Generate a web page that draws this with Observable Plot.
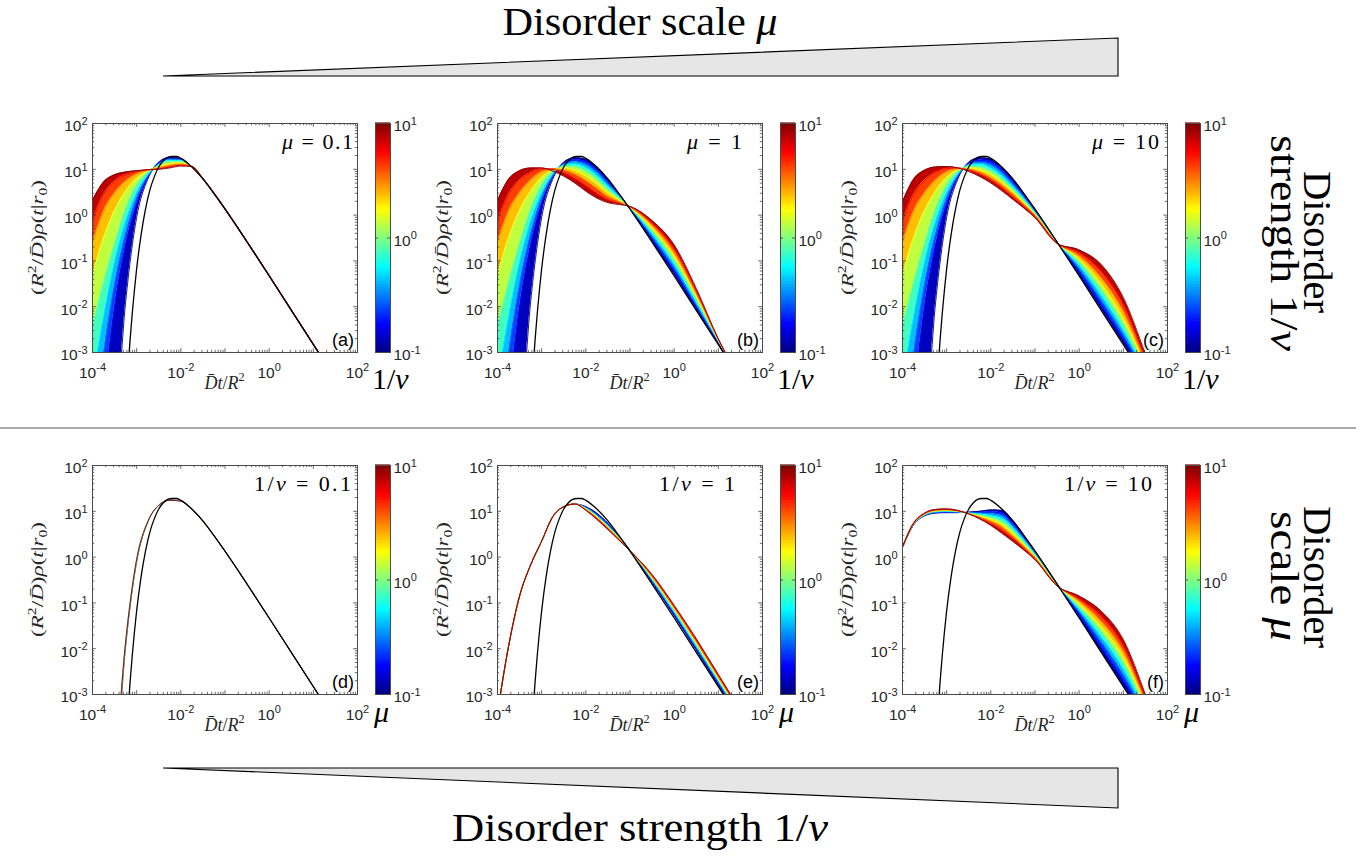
<!DOCTYPE html>
<html><head><meta charset="utf-8">
<script src="https://cdn.jsdelivr.net/npm/d3@7"></script>
<script src="https://cdn.jsdelivr.net/npm/@observablehq/plot@0.6"></script>
<style>
body{margin:0;background:#fff;}
#fig{position:relative;width:1363px;height:859px;overflow:hidden;background:#fff;}
#fig > svg{position:absolute;}
</style></head><body><div id="fig"></div>
<script>
// ---------------- DATA (log10 values) ----------------
const logT = [-4,-3.75,-3.5,-3.25,-3,-2.75,-2.5,-2.25,-2,-1.75,-1.5,-1.25,-1,-0.5,0,0.5,1,1.5,2];
const invNuValues = [0.1,0.178,0.316,0.562,1,1.78,3.16,5.62,10];
const muValues = [0.1,0.178,0.316,0.562,1,1.78,3.16,5.62,10];
const muValuesD = [0.1,1,10];

// homogeneous reference curve (black)
const blackLogT = [-3.3,-3.2,-3.15,-3.1,-3.05,-3,-2.9,-2.8,-2.7,-2.6,-2.5,-2.4,-2.3,-2.2,-2.1,-2,-1.75,-1.5,-1.25,-1,-0.5,0,0.5,1,1.5,2];
const blackLogRho = [-5.04,-3.41,-2.74,-2.15,-1.63,-1.17,-0.43,0.13,0.55,0.84,1.05,1.18,1.26,1.28,1.28,1.24,1.05,0.79,0.47,0.13,-0.59,-1.33,-2.08,-2.83,-3.58,-4.33];

// (a) mu = 0.1, curves for 1/nu = invNuValues
const logRhoA = [
 [-8,-5.5,-4.8,-1.9,-0.05,0.78,1.15,1.26,1.235,1.054,0.785,0.47,0.129,-0.59,-1.33,-2.078,-2.827,-3.577,-4.327],
 [-6.5,-4.0,-2.0,-0.65,0.25,0.82,1.14,1.24,1.22,1.055,0.787,0.472,0.131,-0.588,-1.328,-2.076,-2.825,-3.575,-4.325],
 [-5.0,-3.0,-1.5,-0.4,0.38,0.85,1.12,1.22,1.21,1.055,0.789,0.474,0.133,-0.586,-1.326,-2.074,-2.823,-3.573,-4.323],
 [-3.6,-2.2,-1.0,-0.12,0.5,0.88,1.1,1.19,1.19,1.056,0.791,0.476,0.135,-0.584,-1.324,-2.072,-2.821,-3.571,-4.321],
 [-2.4,-1.45,-0.6,0.15,0.66,0.93,1.08,1.16,1.16,1.057,0.793,0.478,0.137,-0.582,-1.322,-2.07,-2.819,-3.569,-4.319],
 [-1.3,-0.5,0.1,0.52,0.8,0.96,1.06,1.12,1.14,1.058,0.795,0.48,0.139,-0.58,-1.32,-2.068,-2.817,-3.567,-4.317],
 [-0.6,0.08,0.48,0.74,0.9,0.98,1.03,1.08,1.11,1.059,0.797,0.482,0.141,-0.578,-1.318,-2.066,-2.815,-3.565,-4.315],
 [-0.12,0.45,0.74,0.88,0.95,0.99,1.01,1.05,1.09,1.06,0.8,0.485,0.144,-0.575,-1.315,-2.063,-2.812,-3.562,-4.312],
 [0.32,0.72,0.88,0.94,0.97,0.99,1.0,1.03,1.07,1.06,0.805,0.49,0.15,-0.57,-1.31,-2.06,-2.81,-3.56,-4.31]
];
// (b) mu = 1
const logRhoB = [
 [-8,-5.5,-4.8,-1.9,-0.05,0.78,1.15,1.25,1.22,1.04,0.78,0.47,0.14,-0.57,-1.29,-2.05,-2.81,-3.57,-4.33],
 [-6.5,-4.0,-2.0,-0.65,0.25,0.82,1.13,1.21,1.16,0.99,0.74,0.45,0.15,-0.52,-1.22,-2.0,-2.79,-3.56,-4.33],
 [-5.0,-3.0,-1.5,-0.4,0.38,0.86,1.11,1.16,1.1,0.93,0.68,0.43,0.155,-0.46,-1.14,-1.95,-2.77,-3.56,-4.33],
 [-3.6,-2.2,-1.0,-0.12,0.5,0.9,1.09,1.11,1.03,0.86,0.62,0.4,0.16,-0.4,-1.06,-1.89,-2.75,-3.56,-4.33],
 [-2.4,-1.45,-0.6,0.15,0.66,0.95,1.06,1.05,0.95,0.78,0.55,0.37,0.165,-0.34,-0.98,-1.83,-2.74,-3.57,-4.35],
 [-1.3,-0.5,0.1,0.52,0.82,0.98,1.03,0.97,0.85,0.68,0.48,0.33,0.17,-0.28,-0.9,-1.77,-2.73,-3.57,-4.37],
 [-0.6,0.08,0.48,0.76,0.94,1.01,0.98,0.89,0.75,0.58,0.4,0.29,0.175,-0.22,-0.81,-1.71,-2.72,-3.58,-4.4],
 [-0.12,0.45,0.76,0.93,1.01,1.0,0.92,0.8,0.64,0.47,0.33,0.26,0.18,-0.17,-0.73,-1.65,-2.71,-3.59,-4.45],
 [0.32,0.78,0.97,1.03,1.03,0.96,0.85,0.7,0.52,0.37,0.27,0.23,0.19,-0.12,-0.65,-1.6,-2.7,-3.6,-4.5]
];
// (c) mu = 10
const logRhoC = [
 [-8,-5.5,-4.8,-1.9,-0.05,0.78,1.15,1.25,1.225,1.045,0.78,0.47,0.13,-0.59,-1.3,-2.04,-2.79,-3.54,-4.29],
 [-6.5,-4.0,-2.0,-0.65,0.25,0.82,1.13,1.2,1.16,0.99,0.73,0.43,0.1,-0.593,-1.23,-1.95,-2.7,-3.5,-4.3],
 [-5.0,-3.0,-1.5,-0.4,0.38,0.86,1.11,1.15,1.09,0.92,0.67,0.39,0.08,-0.596,-1.16,-1.85,-2.6,-3.45,-4.3],
 [-3.6,-2.2,-1.0,-0.12,0.5,0.9,1.09,1.1,1.02,0.85,0.61,0.35,0.06,-0.6,-1.09,-1.74,-2.5,-3.4,-4.31],
 [-2.4,-1.45,-0.6,0.15,0.66,0.95,1.06,1.04,0.95,0.78,0.56,0.31,0.04,-0.603,-1.02,-1.62,-2.38,-3.35,-4.32],
 [-1.3,-0.5,0.1,0.52,0.82,0.98,1.03,0.98,0.88,0.71,0.5,0.27,0.02,-0.606,-0.96,-1.5,-2.25,-3.28,-4.33],
 [-0.6,0.08,0.48,0.76,0.94,1.01,1.0,0.93,0.81,0.65,0.45,0.23,0.0,-0.61,-0.89,-1.37,-2.1,-3.2,-4.34],
 [-0.12,0.45,0.76,0.93,1.02,1.03,0.98,0.89,0.76,0.59,0.39,0.19,-0.03,-0.615,-0.82,-1.23,-1.95,-3.12,-4.35],
 [0.29,0.78,0.98,1.05,1.06,1.03,0.95,0.84,0.7,0.53,0.34,0.15,-0.06,-0.62,-0.76,-1.08,-1.8,-3.03,-4.36]
];
// (d) 1/nu = 0.1, curves for mu = muValuesD
const logRhoD = [
 [-8,-5.5,-4.8,-1.95,-0.1,0.76,1.13,1.245,1.228,1.05,0.785,0.47,0.129,-0.592,-1.332,-2.079,-2.828,-3.578,-4.328],
 [-8,-5.5,-4.7,-1.9,-0.08,0.765,1.13,1.243,1.225,1.048,0.783,0.47,0.13,-0.591,-1.331,-2.078,-2.827,-3.577,-4.327],
 [-8,-5.5,-4.6,-1.85,-0.05,0.77,1.13,1.24,1.22,1.045,0.78,0.47,0.13,-0.59,-1.33,-2.077,-2.826,-3.576,-4.326]
];
// (e) 1/nu = 1, curves for mu = muValues
const logRhoE = [
 [-3.4,-1.95,-0.85,-0.17,0.35,0.88,1.1,1.16,1.1,0.96,0.74,0.46,0.15,-0.55,-1.28,-2.03,-2.79,-3.55,-4.3],
 [-3.4,-1.95,-0.85,-0.17,0.35,0.88,1.1,1.16,1.09,0.94,0.72,0.45,0.15,-0.53,-1.25,-2.0,-2.76,-3.52,-4.28],
 [-3.4,-1.95,-0.85,-0.17,0.35,0.88,1.1,1.16,1.08,0.92,0.7,0.44,0.15,-0.51,-1.22,-1.97,-2.73,-3.5,-4.26],
 [-3.4,-1.95,-0.85,-0.17,0.35,0.88,1.1,1.16,1.07,0.9,0.68,0.43,0.15,-0.49,-1.19,-1.94,-2.7,-3.47,-4.24],
 [-3.4,-1.95,-0.85,-0.17,0.35,0.88,1.1,1.16,1.06,0.89,0.67,0.42,0.145,-0.47,-1.16,-1.91,-2.68,-3.45,-4.22],
 [-3.4,-1.95,-0.85,-0.17,0.35,0.88,1.1,1.16,1.05,0.87,0.65,0.41,0.145,-0.45,-1.13,-1.88,-2.65,-3.42,-4.2],
 [-3.4,-1.95,-0.85,-0.17,0.35,0.88,1.1,1.16,1.04,0.86,0.64,0.4,0.145,-0.43,-1.11,-1.85,-2.62,-3.4,-4.17],
 [-3.4,-1.95,-0.85,-0.17,0.35,0.88,1.1,1.16,1.03,0.84,0.62,0.38,0.14,-0.4,-1.08,-1.81,-2.59,-3.37,-4.15],
 [-3.4,-1.95,-0.85,-0.17,0.35,0.88,1.1,1.16,1.02,0.82,0.6,0.37,0.14,-0.38,-1.05,-1.78,-2.56,-3.34,-4.12]
];
// (f) 1/nu = 10, curves for mu = muValues
const logRhoF = [
 [0.21,0.70,0.90,0.96,0.97,0.97,0.98,1.0,1.03,1.02,0.8,0.48,0.14,-0.58,-1.31,-2.06,-2.81,-3.56,-4.31],
 [0.21,0.705,0.91,0.97,0.98,0.976,0.975,0.98,0.99,0.96,0.74,0.44,0.115,-0.586,-1.25,-1.95,-2.68,-3.49,-4.32],
 [0.21,0.71,0.915,0.98,0.99,0.982,0.97,0.96,0.945,0.9,0.68,0.4,0.09,-0.593,-1.19,-1.84,-2.56,-3.42,-4.33],
 [0.215,0.715,0.92,0.99,1.0,0.99,0.965,0.94,0.9,0.84,0.63,0.36,0.065,-0.6,-1.14,-1.73,-2.43,-3.35,-4.34],
 [0.215,0.72,0.93,1.0,1.01,0.995,0.96,0.915,0.86,0.77,0.57,0.315,0.04,-0.605,-1.08,-1.62,-2.3,-3.28,-4.35],
 [0.215,0.725,0.94,1.01,1.02,1.0,0.955,0.89,0.82,0.71,0.51,0.27,0.015,-0.61,-1.02,-1.51,-2.18,-3.21,-4.36],
 [0.22,0.73,0.945,1.02,1.03,1.008,0.95,0.87,0.775,0.65,0.45,0.23,-0.01,-0.617,-0.96,-1.4,-2.05,-3.14,-4.37],
 [0.22,0.735,0.95,1.03,1.04,1.014,0.945,0.85,0.73,0.58,0.4,0.19,-0.035,-0.624,-0.91,-1.29,-1.93,-3.07,-4.38],
 [0.22,0.74,0.96,1.04,1.05,1.02,0.94,0.83,0.69,0.52,0.34,0.15,-0.06,-0.63,-0.85,-1.18,-1.8,-3.0,-4.4]
];

const xLabelTicks = [1e-4,1e-2,1e0,1e2];
const yLabelTicks = [1e-3,1e-2,1e-1,1e0,1e1,1e2];
const cbTicks = [0.1,1,10];
const topTitleValues = ["0.1","1","10"];
const bottomTitleValues = ["0.1","1","10"];
const panelTags = ["(a)","(b)","(c)","(d)","(e)","(f)"];

// ---------------- LAYOUT ----------------
const FRAME_LEFTS = [92,497,902];
const FRAME_TOPS = [123,465];
const FW = 265, FH = 229;
const ML = 60, MR = 10, MT = 10, MB = 40;
const CB_OFF = 283, CBW = 15;
const SERIF = "'Liberation Serif','Times New Roman',serif";
const SANS = "'Liberation Sans',Arial,Helvetica,sans-serif";
const AX = "#262626";
const FRAME_C = "#4a4a4a";
const TICK_FS = 15.5, SUP_FS = 11;

function jet(t) {
  const c = v => Math.max(0, Math.min(1, v));
  const r = c(1.5 - Math.abs(4*t - 3)), g = c(1.5 - Math.abs(4*t - 2)), b = c(1.5 - Math.abs(4*t - 1));
  return `rgb(${Math.round(r*255)},${Math.round(g*255)},${Math.round(b*255)})`;
}
const colorScale = {type: "log", domain: [0.1, 10], interpolate: jet};
const expFmt = d => "10|" + Math.round(Math.log10(d));

function supLabels(svg) {
  svg.querySelectorAll('g[aria-label$="tick label"]').forEach(g => {
    g.setAttribute("font-size", TICK_FS);
    g.style.fontSize = TICK_FS + "px";
  });
  svg.querySelectorAll('g[aria-label$="tick label"] text').forEach(t => {
    const s = t.textContent;
    if (!s.includes("|")) return;
    const [b, e] = s.split("|");
    t.textContent = "";
    t.setAttribute("font-size", TICK_FS);
    t.style.fontSize = TICK_FS + "px";
    const ns = "http://www.w3.org/2000/svg";
    const t1 = document.createElementNS(ns, "tspan"); t1.textContent = b; t.appendChild(t1);
    const t2 = document.createElementNS(ns, "tspan"); t2.textContent = e;
    t2.setAttribute("dy", "-6.5"); t2.setAttribute("font-size", SUP_FS); t2.style.fontSize = SUP_FS + "px"; t.appendChild(t2);
  });
}

const fig = document.getElementById("fig");
const allDecades = d3.scaleLog().domain([1e-4, 1e2]).ticks();
const xMajor = allDecades.filter(v => Math.abs(Math.log10(v) - Math.round(Math.log10(v))) < 1e-9);
const xMinor = allDecades.filter(v => !xMajor.includes(v));
const yAll = d3.scaleLog().domain([1e-3, 1e2]).ticks();
const yMajor = yAll.filter(v => Math.abs(Math.log10(v) - Math.round(Math.log10(v))) < 1e-9);
const yMinor = yAll.filter(v => !yMajor.includes(v));
const blackRows = blackLogT.map((t, i) => ({t: 10**t, rho: 10**blackLogRho[i]}));

const panels = [
  {rows: logRhoA, params: invNuValues}, {rows: logRhoB, params: invNuValues}, {rows: logRhoC, params: invNuValues},
  {rows: logRhoD, params: muValuesD}, {rows: logRhoE, params: muValues}, {rows: logRhoF, params: muValues}
];

panels.forEach((pn, idx) => {
  const col = idx % 3, row = Math.floor(idx / 3);
  const left = FRAME_LEFTS[col], top = FRAME_TOPS[row];
  const lines = [], bands = [];
  pn.rows.forEach((r, k) => r.forEach((v, i) => lines.push({t: 10**logT[i], rho: 10**v, p: pn.params[k], k})));
  for (let k = 0; k < pn.rows.length - 1; k++) {
    logT.forEach((t, i) => bands.push({t: 10**t, lo: 10**pn.rows[k][i], hi: 10**pn.rows[k+1][i],
      pm: Math.sqrt(pn.params[k]*pn.params[k+1]), band: k}));
  }
  const tickStyle = {stroke: AX, strokeWidth: 0.7};
  const plot = Plot.plot({
    width: FW + ML + MR, height: FH + MT + MB,
    marginLeft: ML, marginRight: MR, marginTop: MT, marginBottom: MB,
    style: {fontFamily: SANS, fontSize: TICK_FS + "px", color: AX, background: "transparent", overflow: "visible"},
    x: {type: "log", domain: [1e-4, 1e2]},
    y: {type: "log", domain: [1e-3, 1e2]},
    color: colorScale,
    marks: [
      Plot.areaY(bands, {x: "t", y1: "lo", y2: "hi", fill: "pm", z: "band", curve: "monotone-x", clip: true}),
      Plot.line(lines, {x: "t", y: "rho", stroke: "p", z: "k", curve: "monotone-x", strokeWidth: 0.9, clip: true}),
      Plot.line(blackRows, {x: "t", y: "rho", stroke: "#000", strokeWidth: 1.3, curve: "monotone-x", clip: true}),
      Plot.tickX(xMinor, {x: d => d, insetTop: FH - 2.2, ...tickStyle}),
      Plot.tickX(xMinor, {x: d => d, insetBottom: FH - 2.2, ...tickStyle}),
      Plot.tickX(xMajor, {x: d => d, insetTop: FH - 3.8, ...tickStyle}),
      Plot.tickX(xMajor, {x: d => d, insetBottom: FH - 3.8, ...tickStyle}),
      Plot.tickY(yMinor, {y: d => d, insetLeft: FW - 2.2, ...tickStyle}),
      Plot.tickY(yMinor, {y: d => d, insetRight: FW - 2.2, ...tickStyle}),
      Plot.tickY(yMajor, {y: d => d, insetLeft: FW - 3.8, ...tickStyle}),
      Plot.tickY(yMajor, {y: d => d, insetRight: FW - 3.8, ...tickStyle}),
      Plot.frame({stroke: FRAME_C, strokeWidth: 1}),
      Plot.axisX({ticks: xLabelTicks, tickSize: 0, tickPadding: 14, tickFormat: expFmt, label: null, fontSize: TICK_FS}),
      Plot.axisY({ticks: yLabelTicks, tickSize: 0, tickPadding: 5, dy: 3, tickFormat: expFmt, label: null, fontSize: TICK_FS})
    ]
  });
  supLabels(plot);
  plot.style.left = (left - ML) + "px";
  plot.style.top = (top - MT) + "px";
  fig.appendChild(plot);

  // colorbar
  const cbSteps = d3.range(80).map(i => ({lo: 10**(-1 + 2*i/80), hi: 10**(-1 + 2*(i+1)/80), mid: 10**(-1 + 2*(i+0.5)/80)}));
  const CBML = 2, CBMR = 45;
  const cb = Plot.plot({
    width: CBW + CBML + CBMR, height: FH + MT + MB,
    marginLeft: CBML, marginRight: CBMR, marginTop: MT, marginBottom: MB,
    style: {fontFamily: SANS, fontSize: TICK_FS + "px", color: AX, background: "transparent", overflow: "visible"},
    y: {type: "log", domain: [0.1, 10]},
    color: colorScale,
    marks: [
      Plot.rect(cbSteps, {y1: "lo", y2: "hi", fill: "mid", insetTop: -0.6, insetBottom: -0.6}),
      Plot.tickY([1], {y: d => d, insetLeft: CBW - 3, stroke: AX, strokeWidth: 0.7}),
      Plot.tickY([1], {y: d => d, insetRight: CBW - 3, stroke: AX, strokeWidth: 0.7}),
      Plot.frame({stroke: FRAME_C, strokeWidth: 1}),
      Plot.axisY({anchor: "right", ticks: cbTicks, tickSize: 0, tickPadding: 3, dy: 3, tickFormat: expFmt, label: null, fontSize: TICK_FS})
    ]
  });
  supLabels(cb);
  cb.style.left = (left + CB_OFF - CBML) + "px";
  cb.style.top = (top - MT) + "px";
  fig.appendChild(cb);
});

// ---------------- TEXT & DECORATIONS ----------------
const deco = d3.select(fig).append("svg").attr("width", 1363).attr("height", 859)
  .style("left", "0px").style("top", "0px").style("pointer-events", "none");

function rich(sel, parts, size) {
  let shift = 0;
  for (const [s, kind] of parts) {
    const ts = sel.append("tspan").text(s);
    let target = 0, fs = size;
    if (kind === "sup") { target = -0.42*size; fs = 0.68*size; }
    else if (kind === "sub") { target = 0.25*size; fs = 0.68*size; }
    if (target !== shift) { ts.attr("dy", target - shift); shift = target; }
    if (fs !== size) ts.attr("font-size", fs);
    if (kind === "i") ts.attr("font-style", "italic");
  }
}

// triangles and separator
deco.append("polygon").attr("points", "163,76 1118,38 1118,76").attr("fill", "#e6e6e6").attr("stroke", "#000").attr("stroke-width", 1.1);
deco.append("polygon").attr("points", "163,768 1118,768 1118,808").attr("fill", "#e6e6e6").attr("stroke", "#000").attr("stroke-width", 1.1);
deco.append("line").attr("x1", 0).attr("x2", 1356).attr("y1", 428).attr("y2", 428).attr("stroke", "#555").attr("stroke-width", 1);

const big = (x, y, parts, len, rot) => {
  const t = deco.append("text").attr("font-family", SERIF).attr("font-size", 40).attr("fill", "#000")
    .attr("text-anchor", "middle").attr("textLength", len).attr("lengthAdjust", "spacingAndGlyphs")
    .attr("transform", `translate(${x},${y})` + (rot ? ` rotate(${rot})` : ""));
  rich(t, parts, 40);
};
big(640, 35, [["Disorder scale ", "n"], ["μ", "i"]], 275);
big(640, 841, [["Disorder strength 1/", "n"], ["ν", "i"]], 376);
big(1304, 242, [["Disorder", "n"]], 142, 90);
big(1271, 243, [["strength 1/", "n"], ["ν", "i"]], 216, 90);
big(1304, 577, [["Disorder", "n"]], 142, 90);
big(1271, 576, [["scale ", "n"], ["μ", "i"]], 130, 90);

for (let idx = 0; idx < 6; idx++) {
  const col = idx % 3, row = Math.floor(idx / 3);
  const left = FRAME_LEFTS[col], top = FRAME_TOPS[row];
  // panel title
  const tt = deco.append("text").attr("font-family", SERIF).attr("font-size", 22).attr("fill", "#000")
    .attr("x", left + (row === 0 ? 190 : 162)).attr("y", top + 26);
  if (row === 0) rich(tt, [["μ", "i"], [" = " + topTitleValues[col], "n"]], 22);
  else rich(tt, [["1/", "n"], ["ν", "i"], [" = " + bottomTitleValues[col], "n"]], 22);
  tt.attr("textLength", row === 0 ? [71, 55, 67][col] : [97, 76, 88][col]).attr("lengthAdjust", "spacing");
  // tag
  deco.append("text").attr("font-family", SANS).attr("font-size", 18).attr("fill", "#000")
    .attr("text-anchor", "end").attr("x", left + FW - 3).attr("y", top + FH - 6).text(panelTags[idx]);
  // x label
  const xl = deco.append("text").attr("font-family", SERIF).attr("font-size", 18).attr("fill", AX)
    .attr("text-anchor", "middle").attr("x", left + FW/2).attr("y", top + FH + 37);
  rich(xl, [["D\u0304", "i"], ["t", "i"], ["/", "n"], ["R", "i"], ["2", "sup"]], 18);
  // y label
  const yl = deco.append("text").attr("font-family", SERIF).attr("font-size", 17).attr("fill", AX)
    .attr("text-anchor", "middle").attr("textLength", 115).attr("lengthAdjust", "spacingAndGlyphs")
    .attr("transform", `translate(${left - 49},${top + FH/2}) rotate(-90)`);
  rich(yl, [["(", "n"], ["R", "i"], ["2", "sup"], ["/", "n"], ["D\u0304", "i"], [")", "n"], ["ρ", "i"], ["(", "n"],
            ["t", "i"], ["|", "n"], ["r", "i"], ["0", "sub"], [")", "n"]], 17);
  // colorbar label
  const cl = deco.append("text").attr("font-family", SERIF).attr("font-size", 30).attr("fill", "#000");
  if (row === 0) {
    cl.attr("x", left + CB_OFF - 3).attr("y", top + FH + 37);
    rich(cl, [["1/", "n"], ["ν", "i"]], 30);
  } else {
    cl.attr("x", left + CB_OFF - 1).attr("y", top + FH + 28);
    rich(cl, [["μ", "i"]], 28);
  }
}
</script></body></html>
